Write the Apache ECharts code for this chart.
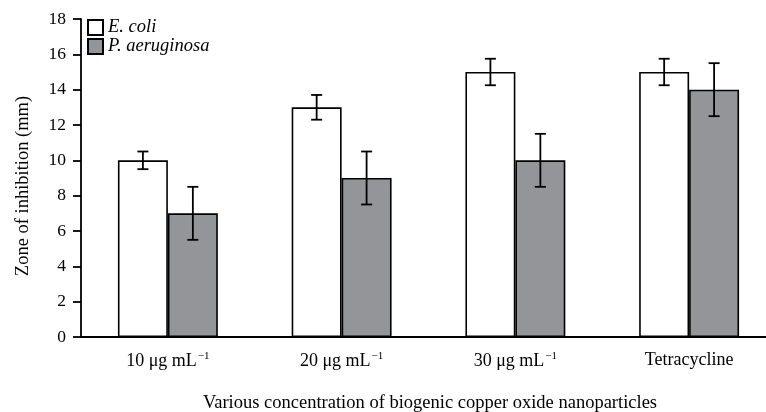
<!DOCTYPE html>
<html>
<head>
<meta charset="utf-8">
<script src="https://cdn.jsdelivr.net/npm/echarts@6/dist/echarts.min.js"></script>
<style>
  html, body { margin: 0; padding: 0; background: #fff; }
  #chart { width: 766px; height: 412px; }
</style>
</head>
<body>
<div id="chart"></div>
<script>
// values
var categories = ['10 μg mL', '20 μg mL', '30 μg mL', 'Tetracycline'];
var catSup = ['−1', '−1', '−1', ''];
var ecoliValues = [10, 13, 15, 15];
var ecoliErrors = [0.5, 0.7, 0.75, 0.75];
var paerValues = [7, 9, 10, 14];
var paerErrors = [1.5, 1.5, 1.5, 1.5];
var yTicks = { min: 0, max: 18, interval: 2 };

var FONT = '"Liberation Serif", "DejaVu Serif", serif';
var GAP = 0.425; // barCategoryGap

function errData(values, errs) {
    var out = [];
    for (var i = 0; i < values.length; i++) {
        out.push([i, values[i], errs[i]]);
    }
    return out;
}

function errRenderer(side) {
    return function (params, api) {
        var idx = api.value(0), val = api.value(1), err = api.value(2);
        var band = api.size([1, 0])[0];
        var barW = band * (1 - GAP) / 2;
        var c = api.coord([idx, val]);
        var x = c[0] + side * barW / 2;
        var top = api.coord([idx, val + err])[1];
        var bot = api.coord([idx, val - err])[1];
        var cap = 5.5;
        var st = { stroke: '#000', lineWidth: 1.8 };
        return {
            type: 'group',
            children: [
                { type: 'line', shape: { x1: x, y1: top, x2: x, y2: bot }, style: st },
                { type: 'line', shape: { x1: x - cap, y1: top, x2: x + cap, y2: top }, style: st },
                { type: 'line', shape: { x1: x - cap, y1: bot, x2: x + cap, y2: bot }, style: st }
            ]
        };
    };
}

var chart = echarts.init(document.getElementById('chart'), null, { renderer: 'canvas' });

var option = {
    backgroundColor: '#fff',
    animation: false,
    textStyle: { fontFamily: FONT, color: '#000' },
    grid: { left: 81, top: 19, bottom: 75, width: 695, outerBoundsMode: 'none', containLabel: false },
    legend: {
        data: ['E. coli', 'P. aeruginosa'],
        orient: 'vertical',
        left: 87,
        top: 18,
        itemWidth: 15,
        itemHeight: 15,
        itemGap: 0,
        icon: 'rect',
        padding: 0,
        textStyle: { fontFamily: FONT, fontStyle: 'italic', fontSize: 18.5, lineHeight: 19, color: '#000' }
    },
    xAxis: {
        type: 'category',
        data: categories,
        axisLine: { lineStyle: { color: '#000', width: 1.8 } },
        axisTick: { alignWithLabel: true, interval: 0, length: 8, lineStyle: { color: '#000', width: 1.8 } },
        axisLabel: {
            interval: 0,
            hideOverlap: false,
            margin: 14,
            fontFamily: FONT,
            fontSize: 18,
            color: '#000',
            formatter: function (v, i) {
                return catSup[i] ? v + '{sup|' + catSup[i] + '}' : v;
            },
            rich: {
                sup: { fontFamily: FONT, fontSize: 11, verticalAlign: 'top', padding: [0, 0, 9, 1], color: '#000' }
            }
        }
    },
    yAxis: {
        type: 'value',
        min: yTicks.min,
        max: yTicks.max,
        interval: yTicks.interval,
        splitLine: { show: false },
        axisLine: { show: true, lineStyle: { color: '#000', width: 1.8 } },
        axisTick: { show: true, length: 8, lineStyle: { color: '#000', width: 1.8 } },
        axisLabel: { margin: 15, fontFamily: FONT, fontSize: 17.5, color: '#000' }
    },
    graphic: [
        {
            type: 'text',
            x: 23, y: 186,
            rotation: Math.PI / 2,
            style: {
                text: 'Zone of inhibition (mm)',
                font: '18.5px ' + FONT,
                fill: '#000',
                align: 'center',
                verticalAlign: 'middle'
            }
        },
        {
            type: 'text',
            x: 430, y: 403,
            style: {
                text: 'Various concentration of biogenic copper oxide nanoparticles',
                font: '18.5px ' + FONT,
                fill: '#000',
                align: 'center',
                verticalAlign: 'middle'
            }
        }
    ],
    series: [
        {
            name: 'E. coli',
            type: 'bar',
            data: ecoliValues,
            barGap: '0%',
            barCategoryGap: (GAP * 100) + '%',
            itemStyle: { color: '#ffffff', borderColor: '#000', borderWidth: 1.6 }
        },
        {
            name: 'P. aeruginosa',
            type: 'bar',
            data: paerValues,
            barGap: '0%',
            barCategoryGap: (GAP * 100) + '%',
            itemStyle: { color: '#939598', borderColor: '#000', borderWidth: 1.6 }
        },
        {
            type: 'custom',
            renderItem: errRenderer(-1),
            data: errData(ecoliValues, ecoliErrors),
            encode: { x: 0, y: 1 },
            z: 5
        },
        {
            type: 'custom',
            renderItem: errRenderer(1),
            data: errData(paerValues, paerErrors),
            encode: { x: 0, y: 1 },
            z: 5
        }
    ]
};

chart.setOption(option);
</script>
</body>
</html>
